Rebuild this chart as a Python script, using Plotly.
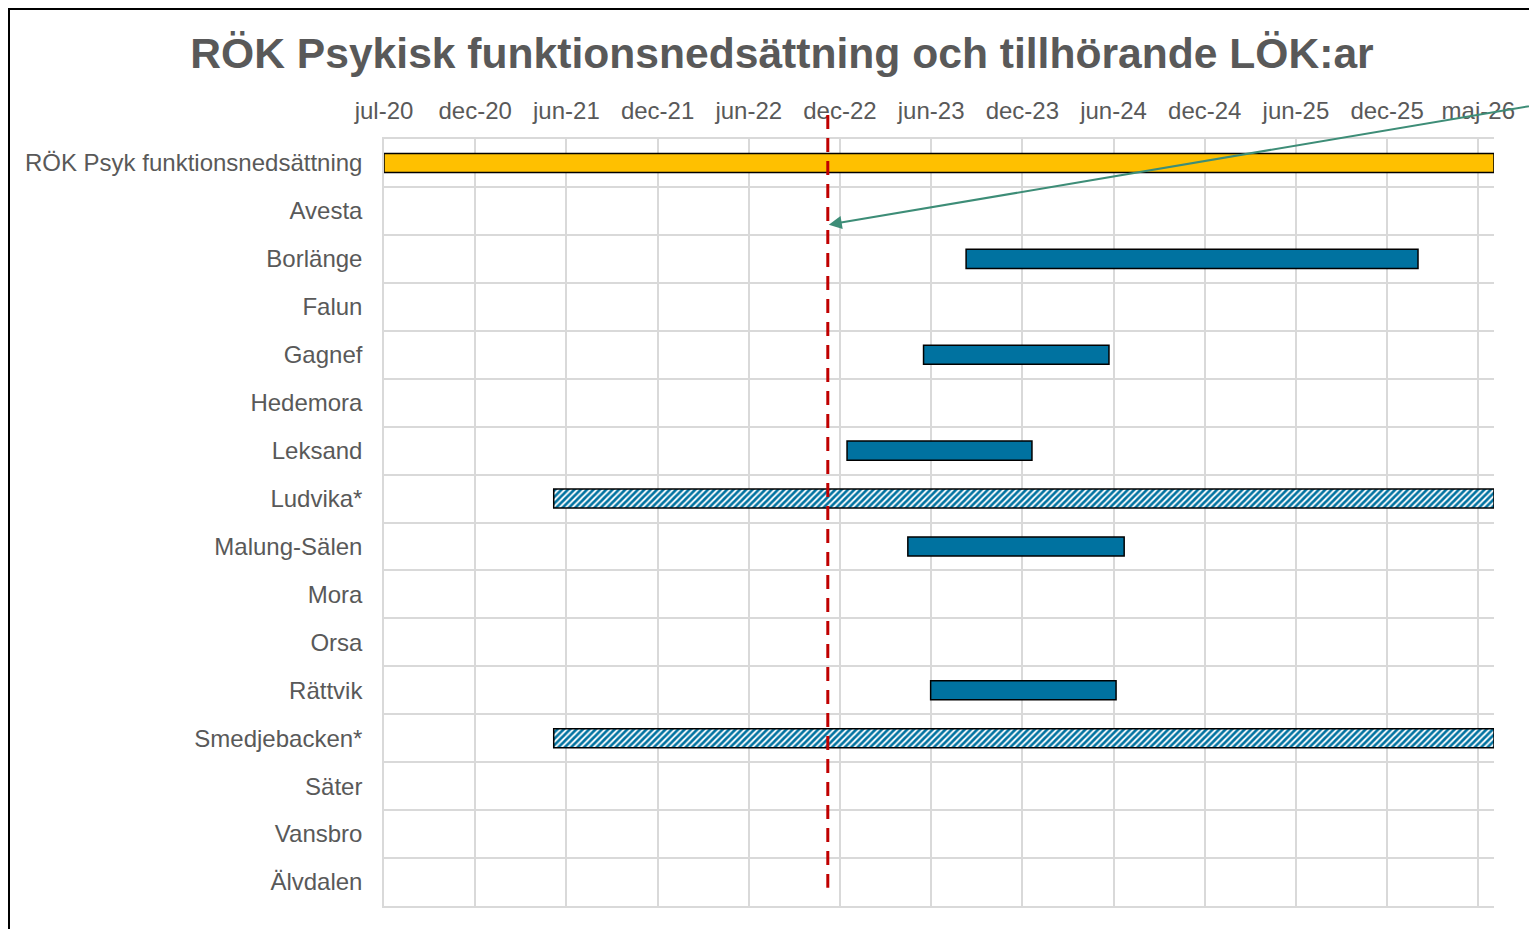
import plotly.graph_objects as go
from datetime import date

# rows, top to bottom
categories = ["RÖK Psyk funktionsnedsättning", "Avesta", "Borlänge", "Falun", "Gagnef",
              "Hedemora", "Leksand", "Ludvika*", "Malung-Sälen", "Mora", "Orsa",
              "Rättvik", "Smedjebacken*", "Säter", "Vansbro", "Älvdalen"]

# main (RÖK) period
rok_row = ["RÖK Psyk funktionsnedsättning"]
rok_start = ["2020-07-01"]
rok_end = ["2026-07-01"]

# LÖK periods with known dates
lok_rows = ["Borlänge", "Gagnef", "Leksand", "Malung-Sälen", "Rättvik"]
lok_start = ["2023-08-24", "2023-06-01", "2023-01-01", "2023-05-01", "2023-06-15"]
lok_end = ["2026-02-01", "2024-06-01", "2024-01-01", "2024-07-01", "2024-06-15"]

# LÖK periods marked with * (hatched)
star_rows = ["Ludvika*", "Smedjebacken*"]
star_start = ["2021-06-01", "2021-06-01"]
star_end = ["2026-07-01", "2026-07-01"]

# axis ticks (every 180 days)
tick_dates = ["2020-07-01", "2020-12-28", "2021-06-26", "2021-12-23", "2022-06-21",
              "2022-12-18", "2023-06-16", "2023-12-13", "2024-06-10", "2024-12-07",
              "2025-06-05", "2025-12-02", "2026-05-31"]
tick_labels = ["jul-20", "dec-20", "jun-21", "dec-21", "jun-22", "dec-22", "jun-23",
               "dec-23", "jun-24", "dec-24", "jun-25", "dec-25", "maj-26"]
x_range = ["2020-07-01", "2026-07-01"]

# "today" marker
today_date = "2022-11-24"
today_rows = [-1.0, 15.12]
arrow_row = 1.29

FONT = "Liberation Sans, Arial, sans-serif"
GREY = "#595959"
BLUE = "#0072A0"

W, H = 1537, 929
M_L, M_R, M_T, M_B = 376, 51, 131, 31


def row_index(names):
    return [categories.index(n) for n in names]


def duration_ms(starts, ends):
    out = []
    for s, e in zip(starts, ends):
        d = date.fromisoformat(e) - date.fromisoformat(s)
        out.append(d.days * 24 * 3600 * 1000)
    return out


def row_to_paper(r):
    n = len(categories)
    return (n - 0.5 - r) / n


fig = go.Figure()

fig.add_trace(go.Bar(
    orientation="h", y=row_index(rok_row), base=rok_start,
    x=duration_ms(rok_start, rok_end), width=0.4,
    marker=dict(color="#FFC000", line=dict(color="black", width=1.5)),
))
fig.add_trace(go.Bar(
    orientation="h", y=row_index(lok_rows), base=lok_start,
    x=duration_ms(lok_start, lok_end), width=0.4,
    marker=dict(color=BLUE, line=dict(color="black", width=1.5)),
))
fig.add_trace(go.Bar(
    orientation="h", y=row_index(star_rows), base=star_start,
    x=duration_ms(star_start, star_end), width=0.4,
    marker=dict(color="white", line=dict(color="black", width=1.5),
                pattern=dict(shape="/", fgcolor=BLUE, bgcolor="white",
                             size=4.5, solidity=0.6, fillmode="replace")),
))

# red dashed line
fig.add_shape(type="line", xref="x", yref="paper",
              x0=today_date, x1=today_date,
              y0=row_to_paper(today_rows[0]), y1=row_to_paper(today_rows[1]),
              line=dict(color="#C00000", width=3, dash="14px,9px"), layer="above")

# green arrow pointing at the line
fig.add_annotation(x=today_date, y=arrow_row, xref="x", yref="y",
                   text="", showarrow=True, axref="pixel", ayref="pixel",
                   ax=715, ay=-121, arrowhead=2, arrowsize=1.3, arrowwidth=2,
                   arrowcolor="#3D8D77", standoff=1)

# outer frame of the chart
pw = W - M_L - M_R
ph = H - M_T - M_B
fig.add_shape(type="rect", xref="paper", yref="paper",
              x0=(1 - M_L) / pw, x1=2.0, y0=-1.0, y1=1 + (M_T - 1) / ph,
              line=dict(color="black", width=2), fillcolor="rgba(0,0,0,0)")

fig.update_layout(
    width=W, height=H,
    margin=dict(l=M_L, r=M_R, t=M_T, b=M_B),
    paper_bgcolor="white", plot_bgcolor="white",
    showlegend=False, barmode="overlay",
    font=dict(family=FONT, color=GREY),
    title=dict(text="<b>RÖK Psykisk funktionsnedsättning och tillhörande LÖK:ar</b>",
               xref="container", x=774 / W, xanchor="center",
               yref="container", y=1 - 45 / H, yanchor="middle",
               font=dict(family=FONT, size=42.6, color=GREY)),
    xaxis=dict(type="date", side="top", range=x_range,
               tickmode="array", tickvals=tick_dates, ticktext=tick_labels,
               tickfont=dict(size=24, color=GREY), ticks="", ticklabelstandoff=9,
               showgrid=True, gridcolor="#D9D9D9", gridwidth=1.5,
               showline=True, linecolor="#D9D9D9", linewidth=1.5, mirror=True,
               zeroline=False),
    yaxis=dict(range=[len(categories) - 0.5, -0.5],
               tickmode="array", tickvals=list(range(len(categories))), ticktext=categories,
               tickfont=dict(size=24, color=GREY), ticks="", ticklabelstandoff=15,
               showgrid=False, zeroline=False,
               showline=True, linecolor="#D9D9D9", linewidth=1.5,
               minor=dict(tick0=0.5, dtick=1, showgrid=True,
                          gridcolor="#D9D9D9", gridwidth=1.5)),
)

fig.write_html("out.html")
